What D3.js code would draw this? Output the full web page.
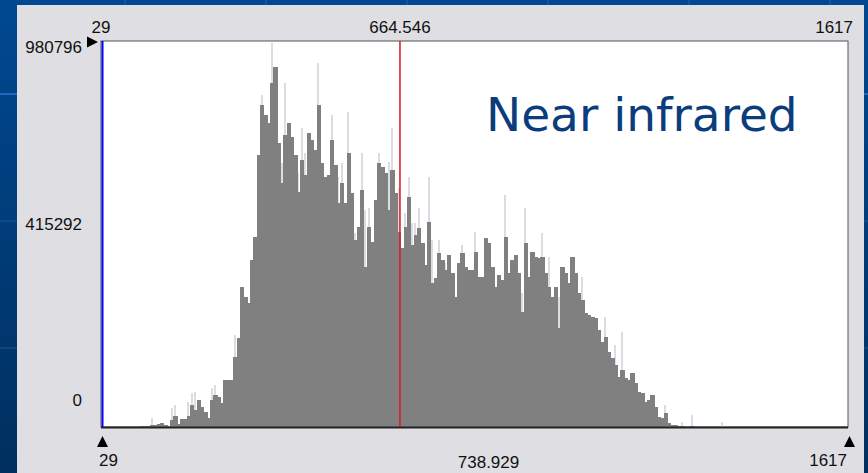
<!DOCTYPE html>
<meta charset="utf-8">
<style>

body {
  margin: 0;
  background: #003a75;
}

.ticks text {
  font: 17px "Liberation Sans", Arial, sans-serif;
  fill: #111;
}

.bars rect {
  fill: #808080;
  shape-rendering: crispEdges;
}

.peaks rect {
  fill: #dcdce4;
  shape-rendering: crispEdges;
}

.title {
  font: 47px "DejaVu Sans", Verdana, sans-serif;
  fill: #0b3d7c;
}

</style>
<svg></svg>
<script src="https://d3js.org/d3.v7.min.js"></script>
<script>

// histogram of the near infrared band, DN 29..1617
var dnMin = 29;
var dnMax = 1617;
var dnMean = 664.546;
var dnCentre = 738.929;
var countMax = 980796;
var yTickLabels = ['980796', '415292', '0'];

// bins start at DN 112, each about 7.09 DN wide; counts in thousands
var binStart = 112;
var binWidth = 7.09;
var counts = [
  3, 3, 3, 5, 5, 8, 10, 5, 3, 18,
  28, 8, 20, 20, 28, 56, 43, 69, 51, 38,
  23, 69, 81, 76, 61, 119, 119, 119, 178, 226,
  356, 330, 315, 424, 483, 691, 818, 793, 772, 874,
  915, 722, 620, 742, 772, 737, 691, 597, 678, 640,
  747, 729, 704, 818, 671, 635, 640, 729, 666, 569,
  620, 569, 696, 595, 475, 508, 602, 407, 508, 470,
  577, 671, 661, 645, 551, 653, 595, 495, 455, 508,
  584, 462, 488, 506, 468, 412, 521, 366, 379, 442,
  424, 399, 437, 391, 330, 417, 442, 407, 399, 399,
  445, 381, 381, 480, 468, 407, 356, 386, 374, 483,
  391, 424, 437, 391, 292, 468, 381, 445, 432, 429,
  432, 391, 356, 330, 356, 252, 407, 391, 366, 432,
  391, 341, 323, 290, 285, 280, 277, 246, 216, 229,
  191, 175, 158, 127, 145, 125, 119, 137, 112, 89,
  86, 64, 69, 81, 51, 25, 23, 36, 10, 5,
  5, 3, 3, 0, 0, 3, 0, 0, 0, 0,
  0, 0, 0, 0, 0
];

// single-value spikes (light grey) above the bins, counts in thousands
var peakBins = [3, 9, 10, 14, 15, 16, 21, 22, 28, 36, 39, 42, 43, 47, 48, 49, 53, 57, 59, 60,
  62, 64, 66, 67, 68, 71, 74, 75, 77, 79, 80, 81, 82, 83, 86, 87, 89, 91, 96, 100,
  109, 114, 115, 120, 122, 125, 132, 139, 142, 144, 157, 162, 165, 174];
var peakCounts = [23, 48, 56, 64, 86, 89, 99, 107, 234, 844, 976, 671, 874, 645, 760, 696, 925, 793, 635, 671,
  800, 493, 696, 551, 556, 696, 673, 760, 607, 544, 635, 518, 518, 556, 635, 475, 475, 417, 462, 495,
  590, 341, 556, 493, 432, 330, 381, 280, 208, 241, 56, 13, 30, 13];

var width = 868;
var height = 473;

var svg = d3.select('svg')
  .attr('width', width)
  .attr('height', height)
  .style('display', 'block');

var x = d3.scaleLinear().domain([dnMin, dnMax]).range([101, 848]);
var y = d3.scaleLinear().domain([0, countMax]).range([427, 41]);
var yLabel = d3.scalePoint().domain(yTickLabels).range([47, 400]);

// slide background
var defs = svg.append('defs');
var grad = defs.append('linearGradient')
  .attr('id', 'bg')
  .attr('x1', 0).attr('y1', 0).attr('x2', 0).attr('y2', 1);
grad.append('stop').attr('offset', 0).attr('stop-color', '#004992');
grad.append('stop').attr('offset', 1).attr('stop-color', '#002f5e');

svg.append('rect')
  .attr('width', width)
  .attr('height', height)
  .attr('fill', 'url(#bg)');

var grid = svg.append('g')
  .attr('stroke', '#2b72c4')
  .attr('stroke-width', 2);
grid.selectAll('line.v')
  .data(d3.range(125, width, 141))
  .enter().append('line')
  .attr('class', 'v')
  .attr('x1', function (d) { return d; })
  .attr('x2', function (d) { return d; })
  .attr('y1', 0)
  .attr('y2', height)
  .attr('stroke-opacity', 0.35);
grid.selectAll('line.h')
  .data(d3.range(94, height, 127))
  .enter().append('line')
  .attr('class', 'h')
  .attr('x1', 0)
  .attr('x2', width)
  .attr('y1', function (d) { return d; })
  .attr('y2', function (d) { return d; })
  .attr('stroke-opacity', function (d, i) { return i === 0 ? 0.8 : 0.25; });

// dialog panel
svg.append('rect')
  .attr('x', 17)
  .attr('y', 5)
  .attr('width', 847)
  .attr('height', height)
  .attr('fill', '#dfdfe3');

// plot area
svg.append('rect')
  .attr('x', x.range()[0])
  .attr('y', y.range()[1])
  .attr('width', x.range()[1] - x.range()[0])
  .attr('height', y.range()[0] - y.range()[1])
  .attr('fill', '#fff')
  .attr('stroke', '#555')
  .attr('stroke-width', 1);

var binPx = x(binStart + binWidth) - x(binStart);

svg.append('g')
  .attr('class', 'peaks')
  .selectAll('rect')
  .data(peakBins)
  .enter().append('rect')
  .attr('x', function (d) { return x(binStart + d * binWidth) + binPx / 2 - 1; })
  .attr('width', 2)
  .attr('y', function (d, i) { return y(peakCounts[i] * 1000); })
  .attr('height', function (d, i) { return y(0) - y(peakCounts[i] * 1000); });

svg.append('g')
  .attr('class', 'bars')
  .selectAll('rect')
  .data(counts)
  .enter().append('rect')
  .attr('x', function (d, i) { return x(binStart + i * binWidth); })
  .attr('width', binPx + 1)
  .attr('y', function (d) { return y(d * 1000); })
  .attr('height', function (d) { return y(0) - y(d * 1000); });

// baseline and min marker
svg.append('line')
  .attr('x1', x(dnMin))
  .attr('x2', x(dnMax))
  .attr('y1', y(0) + 0.5)
  .attr('y2', y(0) + 0.5)
  .attr('stroke', '#222')
  .attr('stroke-width', 2);

svg.append('line')
  .attr('x1', x(dnMin) + 1.5)
  .attr('x2', x(dnMin) + 1.5)
  .attr('y1', y(countMax))
  .attr('y2', y(0))
  .attr('stroke', '#0000ff')
  .attr('stroke-width', 2);

// mean line
svg.append('line')
  .attr('x1', x(dnMean))
  .attr('x2', x(dnMean))
  .attr('y1', y(countMax))
  .attr('y2', y(0))
  .attr('stroke', '#e0161b')
  .attr('stroke-width', 1.5);

// markers
svg.append('path')
  .attr('d', 'M' + (x(dnMin) - 3) + ',' + (y(countMax) + 1) + 'l-11,-5.5v11z')
  .attr('fill', '#000');

svg.selectAll('path.mark')
  .data([dnMin, dnMax])
  .enter().append('path')
  .attr('class', 'mark')
  .attr('d', function (d) { return 'M' + (x(d) + 1.5) + ',' + (y(0) + 9) + 'l5.5,11h-11z'; })
  .attr('fill', '#000');

// labels
var ticks = svg.append('g').attr('class', 'ticks');

ticks.append('text').attr('x', x(dnMin)).attr('y', 33)
  .attr('text-anchor', 'middle').text(dnMin);
ticks.append('text').attr('x', x(dnMean)).attr('y', 33)
  .attr('text-anchor', 'middle').text(dnMean.toFixed(3));
ticks.append('text').attr('x', x(dnMax) + 5).attr('y', 33)
  .attr('text-anchor', 'end').text(dnMax);

ticks.selectAll('text.y')
  .data(yTickLabels)
  .enter().append('text')
  .attr('class', 'y')
  .attr('x', 82)
  .attr('y', function (d) { return yLabel(d); })
  .attr('dy', '0.36em')
  .attr('text-anchor', 'end')
  .text(function (d) { return d; });

ticks.append('text').attr('x', x(dnMin) - 2).attr('y', 466)
  .attr('text-anchor', 'start').text(dnMin);
ticks.append('text').attr('x', x(dnMax) - 1).attr('y', 466)
  .attr('text-anchor', 'end').text(dnMax);
ticks.append('text').attr('x', (x.range()[0] + x.range()[1]) / 2 + 14).attr('y', 468)
  .attr('text-anchor', 'middle').text(dnCentre.toFixed(3));

svg.append('text')
  .attr('class', 'title')
  .attr('x', 486)
  .attr('y', 131)
  .text('Near infrared');

</script>
